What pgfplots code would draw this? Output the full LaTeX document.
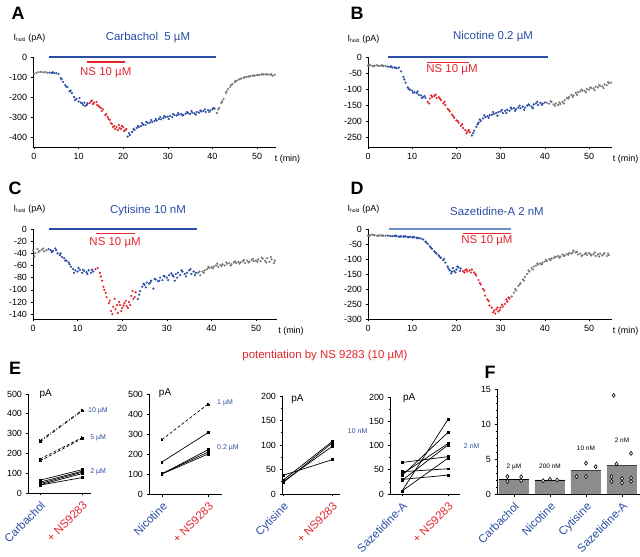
\documentclass[border=0pt]{standalone}
\usepackage{fontspec}
\setmainfont{Liberation Sans}
\usepackage{pgfplots}
\pgfplotsset{compat=1.18}
\definecolor{cblue}{HTML}{2A4DA5}
\definecolor{lblue}{HTML}{6D8CCB}
\definecolor{cred}{HTML}{E3262D}
\definecolor{cgray}{HTML}{7A7A7A}
\definecolor{bargray}{HTML}{8C8C8C}

\pgfplotsset{
  base/.style={scale only axis, anchor=south west, axis lines=left, axis line style={-, line width=0.6pt},
    tick style={black, line width=0.6pt}, tick align=outside, major tick length=2.5bp, minor tick length=1.5bp,
    ticklabel style={font=\fontsize{9}{10}\selectfont}, /pgf/number format/assume math mode=true, clip=false},
  trace/.style={base, height=90bp, xtick={0,10,...,50}},
  tdots/.style={only marks, mark=*, mark size=0.9bp, color=#1, mark options={draw=none, fill=#1}},
  drug/.style={#1, line width=1.1pt},
  cat/.style={base, ymin=0, xtick={0,1}, xticklabel style={rotate=45, anchor=north east, font=\fontsize{11.5}{12}\selectfont},
    xticklabels={\textcolor{cblue}{#1}, \textcolor{cred}{+ NS9283}}},
  pl/.style={black, line width=0.7pt, mark=square*, mark size=0.9bp},
}
\newcommand{\ihold}{I\textsubscript{\fontsize{5}{5}\selectfont hold} (pA)}
\newcommand{\lab}[1]{\fontsize{18}{18}\selectfont\bfseries #1}

\begin{document}
\begin{tikzpicture}[font=\fontsize{9}{10}\selectfont]
\path[use as bounding box] (0,0) rectangle (640bp,557bp);

% ---------------- A : carbachol
\node at (18bp,544bp) {\lab{A}};
\node[anchor=west] at (10bp,519bp) {\ihold};
\node[text=cblue, font=\fontsize{11.5}{12}\selectfont] at (148bp,519bp) {Carbachol\ \ 5 µM};
\begin{axis}[trace, at={(33.1bp,410bp)}, width=243.1bp, xmin=-0.2, xmax=54.3, ymin=-450, ymax=0, ytick={-400,-300,...,0}]
\addplot[drug=cblue] coordinates {(3.4,0) (40.8,0)};
\addplot[drug=cred] coordinates {(11.9,-25) (20.4,-25)};
\node[text=cred, font=\fontsize{11.5}{12}\selectfont] at (axis cs:16.1,-80) {NS 10 µM};
\node[anchor=west] at (axis cs:53.2,-450) [yshift=-12bp] {t (min)};
\addplot[tdots=cgray] coordinates {(0,-85)(0.5,-80)(1,-76)(1.5,-74)(2,-77)(2.5,-75)(3,-79)
 (41,-280)(41.5,-255)(42,-230)(42.5,-210)(43,-180)(43.5,-160)(44,-150)(44.5,-135)(45,-125)(45.5,-118)(46,-112)(46.5,-107)(47,-104)(47.5,-100)(48,-98)(48.5,-96)(49,-94)(49.5,-93)(50,-90)(50.5,-89)(51,-88)(51.5,-87)(52,-86)(52.5,-87)(53,-89)(53.5,-94)(54,-88)
 (41.3,-262)(42.2,-222)(43.2,-172)(44.2,-140)(45.2,-120)(46.2,-110)(47.2,-101)(48.2,-97)(49.2,-92)(50.2,-91)(51.2,-86)(52.2,-88)(53.2,-85)};
\addplot[tdots=cblue] coordinates {(3.5,-78)(4,-80)(4.5,-79)(5,-81)(5.5,-85)(6,-105)(6.5,-125)(7,-140)(7.5,-150)(8,-172)(8.5,-180)(9,-200)(9.5,-210)(10,-222)(10.5,-228)(11,-240)(11.5,-245)(12,-232)
 (9.2,-215)(10.2,-205)(10.8,-232)(11.3,-228)(11.8,-240)(4.2,-76)(6.2,-112)(7.2,-148)(8.2,-168)
 (21,-398)(21.5,-390)(22,-375)(22.5,-365)(23,-355)(23.5,-350)(24,-345)(24.5,-338)(25,-340)(25.5,-330)(26,-328)(26.5,-325)(27,-320)(27.5,-318)(28,-310)(28.5,-312)(29,-305)(29.5,-300)(30,-298)(30.5,-295)(31,-300)(31.5,-290)(32,-292)(32.5,-288)(33,-285)(33.5,-290)(34,-283)(34.5,-280)(35,-285)(35.5,-278)(36,-282)(36.5,-275)(37,-278)(37.5,-272)(38,-270)(38.5,-275)(39,-265)(39.5,-268)(40,-262)(40.5,-258)
 (21.3,-380)(22.3,-360)(23.3,-345)(24.2,-330)(25.2,-325)(26.3,-315)(27.3,-310)(28.3,-300)(29.2,-295)(30.2,-310)(31.2,-285)(32.3,-280)(33.3,-292)(34.3,-275)(35.3,-270)(36.3,-288)(37.3,-268)(38.3,-262)(39.3,-275)(40.2,-255)};
\addplot[tdots=cred] coordinates {(12.5,-230)(13,-218)(13.5,-228)(14,-225)(14.5,-245)(15,-255)(15.5,-262)(16,-290)(16.5,-300)(17,-315)(17.5,-335)(18,-345)(18.5,-350)(19,-340)(19.5,-360)(20,-350)(20.5,-365)
 (13.2,-235)(14.2,-240)(15.2,-270)(16.2,-285)(17.2,-330)(17.7,-350)(18.2,-360)(18.8,-365)(19.2,-355)(19.7,-345)(20.2,-370)(20.7,-360)(16.7,-310)(12.8,-222)(14.7,-250)};
\end{axis}

% ---------------- B : nicotine
\node at (357bp,544bp) {\lab{B}};
\node[anchor=west] at (344bp,518bp) {\ihold};
\node[text=cblue, font=\fontsize{11.5}{12}\selectfont] at (493bp,520bp) {Nicotine 0.2 µM};
\begin{axis}[trace, at={(368bp,410bp)}, width=244bp, xmin=0, xmax=55.2, ymin=-281, ymax=0, ytick={-250,-200,...,0}]
\addplot[drug=cblue] coordinates {(4.6,0) (40.7,0)};
\addplot[drug=cred] coordinates {(13.3,-16) (22.8,-16)};
\node[text=cred, font=\fontsize{11.5}{12}\selectfont] at (axis cs:19,-41) {NS 10 µM};
\node[anchor=west] at (axis cs:54.6,-281) [yshift=-12bp] {t (min)};
\addplot[tdots=cgray] coordinates {(0,-27)(0.5,-26)(1,-28)(1.5,-27)(2,-26)(2.5,-28)(3,-27)(3.5,-29)(4,-28)(0.3,-25)(1.3,-29)(2.3,-27)(3.3,-26)
 (40.5,-143)(41,-146)(41.5,-140)(42,-148)(42.5,-145)(43,-150)(43.5,-147)(44,-140)(44.5,-135)(45,-128)(45.5,-125)(46,-118)(46.5,-120)(47,-112)(47.5,-110)(48,-108)(48.5,-105)(49,-106)(49.5,-100)(50,-102)(50.5,-97)(51,-98)(51.5,-93)(52,-95)(52.5,-90)(53,-92)(53.5,-86)(54,-88)(54.5,-82)(55,-80)
 (41.3,-138)(42.3,-152)(43.3,-142)(44.3,-145)(45.3,-130)(46.3,-125)(47.3,-118)(48.3,-102)(49.3,-110)(50.3,-95)(51.3,-104)(52.3,-88)(53.3,-97)(54.3,-78)};
\addplot[tdots=cblue] coordinates {(4.5,-30)(5,-31)(5.5,-33)(6,-32)(6.5,-35)(7,-33)(7.5,-45)(8,-62)(8.5,-80)(9,-95)(9.5,-102)(10,-105)(10.5,-110)(11,-113)(11.5,-118)(12,-120)(12.5,-125)(13,-128)
 (8.2,-70)(9.2,-100)(10.2,-112)(11.2,-108)(12.2,-128)(12.8,-122)(5.2,-29)(6.2,-34)
 (23.5,-245)(24,-230)(24.5,-218)(25,-205)(25.5,-200)(26,-192)(26.5,-188)(27,-185)(27.5,-182)(28,-180)(28.5,-178)(29,-175)(29.5,-172)(30,-170)(30.5,-175)(31,-168)(31.5,-165)(32,-168)(32.5,-162)(33,-160)(33.5,-163)(34,-158)(34.5,-160)(35,-155)(35.5,-158)(36,-152)(36.5,-150)(37,-155)(37.5,-148)(38,-145)(38.5,-150)(39,-143)(39.5,-146)(40,-142)
 (23.8,-238)(24.8,-210)(25.3,-195)(26.3,-182)(27.3,-190)(28.3,-172)(29.3,-183)(30.3,-165)(31.3,-175)(32.3,-158)(33.3,-168)(34.3,-152)(35.3,-165)(36.3,-148)(37.3,-160)(38.3,-140)(39.3,-150)};
\addplot[tdots=cred] coordinates {(13.5,-140)(14,-130)(14.5,-125)(15,-122)(15.5,-128)(16,-126)(16.5,-135)(17,-145)(17.5,-150)(18,-162)(18.5,-170)(19,-180)(19.5,-190)(20,-198)(20.5,-205)(21,-215)(21.5,-222)(22,-228)(22.5,-232)(23,-235)
 (13.8,-145)(14.3,-120)(15.3,-118)(16.3,-130)(17.3,-140)(18.3,-165)(19.3,-185)(20.3,-200)(21.3,-210)(22.3,-238)(22.8,-228)};
\end{axis}

% ---------------- C : cytisine
\node at (15bp,369bp) {\lab{C}};
\node[anchor=west] at (10bp,348bp) {\ihold};
\node[text=cblue, font=\fontsize{11.5}{12}\selectfont] at (148bp,346bp) {Cytisine 10 nM};
\begin{axis}[trace, at={(33bp,238bp)}, width=244bp, xmin=0, xmax=54.7, ymin=-148, ymax=0, ytick={-140,-120,...,0}]
\addplot[drug=cblue] coordinates {(3.6,0) (36.8,0)};
\addplot[drug=cred] coordinates {(14.2,-8) (22.8,-8)};
\node[text=cred, font=\fontsize{11.5}{12}\selectfont] at (axis cs:18.4,-23) {NS 10 µM};
\node[anchor=west] at (axis cs:54.2,-148) [yshift=-12bp] {t (min)};
\addplot[tdots=cgray] coordinates {(0,-35)(0.5,-40)(1,-33)(1.5,-36)(2,-34)(2.5,-37)(3,-35)(0.3,-45)(1.2,-38)(2.3,-32)
 (37,-72)(37.5,-76)(38,-70)(38.5,-68)(39,-66)(39.5,-64)(40,-63)(40.5,-62)(41,-60)(41.5,-62)(42,-59)(42.5,-58)(43,-60)(43.5,-57)(44,-56)(44.5,-58)(45,-55)(45.5,-56)(46,-54)(46.5,-55)(47,-53)(47.5,-56)(48,-52)(48.5,-54)(49,-51)(49.5,-53)(50,-52)(50.5,-50)(51,-53)(51.5,-49)(52,-52)(52.5,-48)(53,-54)(53.5,-50)(54,-56)
 (37.3,-70)(38.3,-72)(39.3,-62)(40.3,-65)(41.3,-57)(42.3,-61)(43.3,-55)(44.3,-60)(45.3,-53)(46.3,-57)(47.3,-51)(48.3,-55)(49.3,-49)(50.3,-54)(51.3,-47)(52.3,-55)(53.3,-46)(54.2,-52)};
\addplot[tdots=cblue] coordinates {(3.5,-33)(4,-35)(4.5,-36)(5,-32)(5.5,-40)(6,-43)(6.5,-46)(7,-48)(7.5,-52)(8,-55)(8.5,-62)(9,-66)(9.5,-68)(10,-70)(10.5,-67)(11,-72)(11.5,-69)(12,-71)(12.5,-68)(13,-72)(13.5,-70)
 (4.2,-38)(5.2,-35)(6.2,-40)(7.2,-52)(8.2,-58)(9.2,-72)(10.2,-64)(11.2,-67)(12.2,-74)(13.2,-67)
 (23.5,-115)(24,-102)(24.5,-95)(25,-92)(25.5,-88)(26,-90)(26.5,-85)(27,-98)(27.5,-83)(28,-86)(28.5,-80)(29,-84)(29.5,-78)(30,-80)(30.5,-76)(31,-73)(31.5,-78)(32,-74)(32.5,-72)(33,-76)(33.5,-70)(34,-74)(34.5,-72)(35,-68)(35.5,-74)(36,-70)(36.5,-72)
 (23.8,-108)(24.8,-90)(25.3,-96)(26.3,-88)(27.3,-82)(28.3,-85)(29.3,-77)(30.3,-84)(31.3,-76)(32.3,-80)(33.3,-68)(34.3,-78)(35.3,-66)(36.3,-76)(31.8,-85)};
\addplot[tdots=cred] coordinates {(14,-66)(14.5,-64)(15,-72)(15.5,-85)(16,-100)(16.5,-112)(17,-122)(17.5,-135)(18,-128)(18.5,-132)(19,-138)(19.5,-125)(20,-130)(20.5,-122)(21,-127)(21.5,-120)(22,-110)(22.5,-115)(23,-104)
 (15.2,-78)(15.8,-95)(16.3,-105)(17.2,-118)(17.8,-140)(18.3,-115)(18.8,-125)(19.3,-120)(19.8,-135)(20.3,-126)(20.8,-118)(21.3,-130)(21.8,-125)(22.3,-102)(22.8,-112)};
\end{axis}

% ---------------- D : sazetidine
\node at (357bp,369bp) {\lab{D}};
\node[anchor=west] at (344bp,348bp) {\ihold};
\node[text=cblue, font=\fontsize{11.5}{12}\selectfont] at (497bp,346bp) {Sazetidine-A 2 nM};
\begin{axis}[trace, at={(368bp,238bp)}, width=244bp, xmin=0, xmax=55.2, ymin=-300, ymax=0, ytick={-300,-250,...,0}]
\addplot[drug=lblue] coordinates {(4.8,0) (32.4,0)};
\addplot[drug=cred] coordinates {(21.5,-14) (32.4,-14)};
\node[text=cred, font=\fontsize{11.5}{12}\selectfont] at (axis cs:26.9,-40) {NS 10 µM};
\node[anchor=west] at (axis cs:54.6,-300) [yshift=-12bp] {t (min)};
\addplot[tdots=cgray] coordinates {(0,-22)(0.5,-20)(1,-19)(1.5,-21)(2,-22)(2.5,-21)(3,-22)(3.5,-23)(4,-22)(0.3,-24)(1.3,-20)(2.3,-23)(3.3,-21)
 (32.5,-225)(33,-212)(33.5,-205)(34,-190)(34.5,-180)(35,-168)(35.5,-160)(36,-150)(36.5,-142)(37,-130)(37.5,-125)(38,-122)(38.5,-118)(39,-115)(39.5,-112)(40,-108)(40.5,-107)(41,-100)(41.5,-98)(42,-97)(42.5,-94)(43,-90)(43.5,-92)(44,-85)(44.5,-88)(45,-84)(45.5,-80)(46,-82)(46.5,-72)(47,-78)(47.5,-85)(48,-82)(48.5,-88)(49,-84)(49.5,-86)(50,-80)(50.5,-88)(51,-84)(51.5,-90)(52,-85)(52.5,-82)(53,-88)(53.5,-80)(54,-90)(54.5,-87)
 (33.3,-200)(34.3,-185)(35.3,-172)(36.3,-138)(37.3,-135)(38.3,-115)(39.3,-118)(40.3,-102)(41.3,-104)(42.3,-92)(43.3,-96)(44.3,-90)(45.3,-86)(46.3,-78)(47.3,-76)(48.3,-90)(49.3,-80)(50.3,-84)(51.3,-78)(52.3,-92)(53.3,-84)(54.3,-82)};
\addplot[tdots=cblue] coordinates {(4.5,-22)(5,-23)(5.5,-24)(6,-23)(6.5,-24)(7,-25)(7.5,-24)(8,-26)(8.5,-25)(9,-27)(9.5,-26)(10,-28)(10.5,-28)(11,-29)(11.5,-30)(12,-32)(12.5,-35)(13,-42)(13.5,-50)(14,-58)(14.5,-66)(15,-74)(15.5,-82)(16,-88)(16.5,-96)(17,-104)(17.5,-112)(18,-125)(18.5,-138)(19,-142)(19.5,-140)(20,-135)(20.5,-128)(21,-132)
 (6.2,-22)(7.2,-26)(8.2,-24)(9.2,-28)(10.2,-26)(11.2,-31)(13.2,-45)(14.2,-62)(15.2,-78)(16.2,-93)(17.2,-100)(18.2,-132)(18.8,-148)(19.2,-130)(19.8,-145)(20.2,-125)(20.8,-140)};
\addplot[tdots=cred] coordinates {(21.5,-140)(22,-137)(22.5,-142)(23,-138)(23.5,-135)(24,-145)(24.5,-155)(25,-170)(25.5,-185)(26,-200)(26.5,-222)(27,-235)(27.5,-255)(28,-262)(28.5,-272)(29,-268)(29.5,-275)(30,-262)(30.5,-258)(31,-250)(31.5,-242)(32,-232)
 (21.8,-145)(22.3,-135)(23.3,-145)(24.3,-150)(25.3,-180)(26.3,-205)(27.3,-240)(28.3,-278)(28.8,-282)(29.3,-262)(29.8,-270)(30.3,-252)(31.3,-235)(31.8,-228)};
\end{axis}

% ---------------- E
\node at (15bp,189bp) {\lab{E}};
\node[text=cred, font=\fontsize{11.5}{12}\selectfont] at (325bp,201bp) {potentiation by NS 9283 (10 µM)};
\begin{axis}[cat=Carbachol, at={(28bp,64bp)}, width=63bp, height=99bp, xmin=-0.29, xmax=1.21, ymax=500, ytick={0,100,...,500}]
\addplot[pl, dash dot] coordinates {(0,258) (1,415)};
\addplot[pl, dash dot] coordinates {(0,265) (1,418)};
\addplot[pl, densely dashed] coordinates {(0,162) (1,275)};
\addplot[pl, densely dashed] coordinates {(0,172) (1,280)};
\addplot[pl] coordinates {(0,65) (1,118)};
\addplot[pl] coordinates {(0,55) (1,110)};
\addplot[pl] coordinates {(0,48) (1,105)};
\addplot[pl] coordinates {(0,42) (1,98)};
\addplot[pl] coordinates {(0,40) (1,78)};
\node[anchor=west] at (axis cs:-0.1,500) {\fontsize{10}{10}\selectfont pA};
\node[anchor=west, text=cblue, font=\fontsize{7}{8}\selectfont] at (axis cs:1.06,415) {10 µM};
\node[anchor=west, text=cblue, font=\fontsize{7}{8}\selectfont] at (axis cs:1.11,280) {5 µM};
\node[anchor=west, text=cblue, font=\fontsize{7}{8}\selectfont] at (axis cs:1.11,108) {2 µM};
\end{axis}
\begin{axis}[cat=Nicotine, at={(149bp,63bp)}, width=73bp, height=100bp, xmin=-0.28, xmax=1.3, ymax=500, ytick={0,100,...,500}]
\addplot[pl, densely dashed] coordinates {(0,272) (1,450)};
\addplot[pl] coordinates {(0,160) (1,307)};
\addplot[pl] coordinates {(0,100) (1,222)};
\addplot[pl] coordinates {(0,102) (1,210)};
\addplot[pl] coordinates {(0,100) (1,200)};
\node[anchor=west] at (axis cs:-0.14,505) {\fontsize{10}{10}\selectfont pA};
\node[anchor=west, text=cblue, font=\fontsize{7}{8}\selectfont] at (axis cs:1.12,455) {1 µM};
\node[anchor=west, text=cblue, font=\fontsize{7}{8}\selectfont] at (axis cs:1.12,232) {0.2 µM};
\end{axis}
\begin{axis}[cat=Cytisine, at={(282bp,63bp)}, width=58bp, height=98bp, xmin=-0.02, xmax=1.16, ymax=200, ytick={0,50,...,200}, minor y tick num=1]
\addplot[pl] coordinates {(0,38) (1,70)};
\addplot[pl] coordinates {(0,28) (1,107)};
\addplot[pl] coordinates {(0,25) (1,97)};
\addplot[pl] coordinates {(0,23) (1,104)};
\node[anchor=west] at (axis cs:0.1,194) {\fontsize{10}{10}\selectfont pA};
\node[anchor=west, text=cblue, font=\fontsize{7}{8}\selectfont] at (axis cs:1.25,129) {10 nM};
\end{axis}
\begin{axis}[cat=Sazetidine-A, at={(390bp,63bp)}, width=70bp, height=97bp, xmin=-0.26, xmax=1.26, ymax=200, ytick={0,50,...,200}, minor y tick num=1]
\addplot[pl] coordinates {(0,65) (1,77)};
\addplot[pl] coordinates {(0,46) (1,52)};
\addplot[pl] coordinates {(0,41) (1,104)};
\addplot[pl] coordinates {(0,38) (1,127)};
\addplot[pl] coordinates {(0,30) (1,39)};
\addplot[pl] coordinates {(0,28) (1,101)};
\addplot[pl] coordinates {(0,6) (1,154)};
\addplot[pl] coordinates {(0,6) (1,74)};
\node[anchor=west] at (axis cs:-0.05,198) {\fontsize{10}{10}\selectfont pA};
\node[anchor=west, text=cblue, font=\fontsize{7}{8}\selectfont] at (axis cs:1.27,99) {2 nM};
\end{axis}

% ---------------- F
\node at (490bp,185bp) {\lab{F}};
\begin{axis}[base, at={(497bp,63bp)}, width=143bp, height=105bp, xmin=-0.47, xmax=3.5, ymin=0, ymax=15,
  ytick={0,5,10,15}, minor y tick num=4, xtick={0,1,2,3},
  xticklabels={Carbachol,Nicotine,Cytisine,Sazetidine-A},
  xticklabel style={rotate=45, anchor=north east, text=cblue, font=\fontsize{11.5}{12}\selectfont}]
\addplot[ybar, bar width=30bp, fill=bargray, draw=none] coordinates {(0,2.1) (1,2.0) (2,3.33) (3,4.14)};
\addplot[black, line width=1pt] coordinates {(-0.42,2.1) (0.42,2.1)};
\addplot[black, line width=1pt] coordinates {(0.58,2.0) (1.42,2.0)};
\addplot[black!75, line width=1pt] coordinates {(1.58,3.33) (2.42,3.33)};
\addplot[black!75, line width=1.5pt] coordinates {(2.58,4.1) (3.42,4.1)};
\addplot[only marks, mark=diamond*, mark size=2bp, mark options={fill=white, draw=black, line width=0.6pt}] coordinates {
 (-0.18,2.5) (-0.18,1.8) (0.2,2.45) (0.2,1.9)
 (0.81,1.9) (1,2.1) (1.2,2.0)
 (1.74,2.5) (2,2.5) (2,4.4) (2.27,3.9)
 (2.71,2.5) (2.71,1.8) (2.77,14.1) (2.85,4.3) (3,2.2) (3,1.6) (3.25,5.8) (3.25,2.3) (3.25,1.8)};
\node[font=\fontsize{6.5}{7}\selectfont] at (axis cs:0,3.9) {2 µM};
\node[font=\fontsize{6.5}{7}\selectfont] at (axis cs:1,3.9) {200 nM};
\node[font=\fontsize{6.5}{7}\selectfont] at (axis cs:2,6.6) {10 nM};
\node[font=\fontsize{6.5}{7}\selectfont] at (axis cs:3,7.7) {2 nM};
\end{axis}
\end{tikzpicture}
\end{document}
